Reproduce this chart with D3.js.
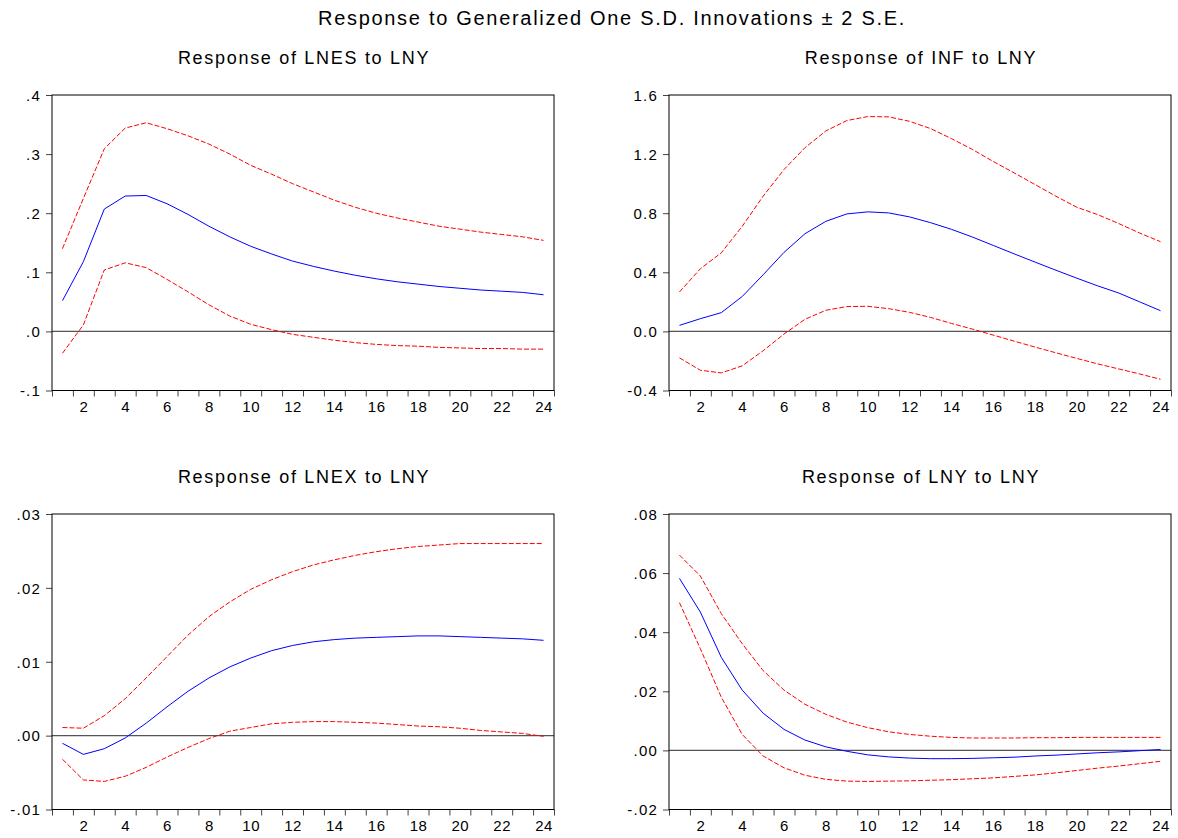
<!DOCTYPE html>
<html>
<head>
<meta charset="utf-8">
<script src="https://cdn.jsdelivr.net/npm/d3@7"></script>
<style>
  body { margin: 0; background: #fff; }
  text { font-family: "Liberation Sans", Arial, sans-serif; fill: #000; }
</style>
</head>
<body>
<svg id="chart" width="1178" height="838"></svg>
<script>
// data
const periods = [1, 2, 3, 4, 5, 6, 7, 8, 9, 10, 11, 12, 13, 14, 15, 16, 17, 18, 19, 20, 21, 22, 23, 24];
const xTickLabels = [2, 4, 6, 8, 10, 12, 14, 16, 18, 20, 22, 24];

const lnesResp = [0.052, 0.118, 0.207, 0.229, 0.230, 0.216, 0.198, 0.178, 0.160, 0.144, 0.131, 0.119,
  0.110, 0.102, 0.095, 0.089, 0.084, 0.080, 0.076, 0.073, 0.070, 0.068, 0.066, 0.062];
const lnesUpper = [0.140, 0.225, 0.309, 0.344, 0.353, 0.343, 0.331, 0.317, 0.300, 0.281, 0.266, 0.250,
  0.236, 0.222, 0.210, 0.200, 0.192, 0.185, 0.178, 0.173, 0.168, 0.164, 0.160, 0.154];
const lnesLower = [-0.037, 0.011, 0.104, 0.116, 0.108, 0.088, 0.067, 0.045, 0.026, 0.012, 0.003, -0.005,
  -0.010, -0.015, -0.019, -0.022, -0.024, -0.025, -0.027, -0.028, -0.029, -0.029, -0.030, -0.030];
const lnesTicks = [-0.1, 0, 0.1, 0.2, 0.3, 0.4];
const lnesTickLabels = ["-.1", ".0", ".1", ".2", ".3", ".4"];

const infResp = [0.041, 0.086, 0.127, 0.236, 0.383, 0.535, 0.661, 0.745, 0.795, 0.809, 0.802, 0.775,
  0.736, 0.691, 0.639, 0.582, 0.525, 0.469, 0.414, 0.360, 0.308, 0.260, 0.200, 0.140];
const infUpper = [0.267, 0.424, 0.532, 0.711, 0.915, 1.096, 1.243, 1.357, 1.427, 1.454, 1.452, 1.422,
  1.373, 1.305, 1.232, 1.150, 1.073, 0.994, 0.915, 0.840, 0.790, 0.730, 0.666, 0.607];
const infLower = [-0.179, -0.263, -0.281, -0.233, -0.131, -0.018, 0.082, 0.143, 0.168, 0.170, 0.154, 0.129,
  0.095, 0.054, 0.016, -0.025, -0.066, -0.106, -0.145, -0.183, -0.220, -0.254, -0.288, -0.324];
const infTicks = [-0.4, 0, 0.4, 0.8, 1.2, 1.6];
const infTickLabels = ["-0.4", "0.0", "0.4", "0.8", "1.2", "1.6"];

const lnexResp = [-0.00104, -0.00254, -0.00177, -0.00032, 0.00168, 0.0039, 0.0060, 0.0078, 0.0093, 0.0105, 0.0115, 0.0122,
  0.0127, 0.0130, 0.0132, 0.0133, 0.0134, 0.0135, 0.0135, 0.0134, 0.0133, 0.0132, 0.0131, 0.0129];
const lnexUpper = [0.0011, 0.0010, 0.0027, 0.0050, 0.0078, 0.0107, 0.0136, 0.0161, 0.0181, 0.0198, 0.0211, 0.0222,
  0.0231, 0.0238, 0.0244, 0.0249, 0.0253, 0.0256, 0.0258, 0.0260, 0.0260, 0.0260, 0.0260, 0.0260];
const lnexLower = [-0.0032, -0.0060, -0.0062, -0.0055, -0.0043, -0.0029, -0.0016, -0.0004, 0.0006, 0.0011, 0.0016, 0.0018,
  0.0019, 0.0019, 0.0018, 0.0017, 0.0015, 0.0013, 0.0012, 0.0010, 0.0007, 0.0005, 0.0003, -0.0001];
const lnexTicks = [-0.01, 0, 0.01, 0.02, 0.03];
const lnexTickLabels = ["-.01", ".00", ".01", ".02", ".03"];

const lnyResp = [0.0582, 0.0468, 0.0315, 0.0204, 0.0126, 0.0071, 0.0035, 0.0012, -0.0003, -0.0015, -0.0022, -0.0026,
  -0.0028, -0.0028, -0.0027, -0.0025, -0.0023, -0.0019, -0.0016, -0.0012, -0.0008, -0.0005, -0.0001, 0.0003];
const lnyUpper = [0.0661, 0.0590, 0.0463, 0.0361, 0.0270, 0.0204, 0.0156, 0.0122, 0.0096, 0.0077, 0.0063, 0.0054,
  0.0048, 0.0044, 0.0042, 0.0042, 0.0042, 0.0043, 0.0043, 0.0044, 0.0044, 0.0044, 0.0044, 0.0044];
const lnyLower = [0.0500, 0.0344, 0.0180, 0.0054, -0.0019, -0.0059, -0.0084, -0.0098, -0.0104, -0.0105, -0.0104, -0.0103,
  -0.0101, -0.0099, -0.0096, -0.0093, -0.0088, -0.0083, -0.0076, -0.0068, -0.0060, -0.0053, -0.0045, -0.0037];
const lnyTicks = [-0.02, 0, 0.02, 0.04, 0.06, 0.08];
const lnyTickLabels = ["-.02", ".00", ".02", ".04", ".06", ".08"];

const mainTitle = "Response to Generalized One S.D. Innovations \u00b1 2 S.E.";

const panels = [
  { title: "Response of LNES to LNY", resp: lnesResp, upper: lnesUpper, lower: lnesLower, ticks: lnesTicks, labels: lnesTickLabels, col: 0, row: 0 },
  { title: "Response of INF to LNY", resp: infResp, upper: infUpper, lower: infLower, ticks: infTicks, labels: infTickLabels, col: 1, row: 0 },
  { title: "Response of LNEX to LNY", resp: lnexResp, upper: lnexUpper, lower: lnexLower, ticks: lnexTicks, labels: lnexTickLabels, col: 0, row: 1 },
  { title: "Response of LNY to LNY", resp: lnyResp, upper: lnyUpper, lower: lnyLower, ticks: lnyTicks, labels: lnyTickLabels, col: 1, row: 1 }
];

// layout
const svg = d3.select("#chart");
const colLeft = [52, 669];
const rowTop = [95, 514];
const plotW = 502;
const plotH = 295.5;
const font = "'Liberation Sans', Arial, sans-serif";

svg.append("text")
  .attr("x", 612)
  .attr("y", 25)
  .attr("text-anchor", "middle")
  .attr("font-size", "20px")
  .attr("letter-spacing", "1.7px")
  .text(mainTitle);

panels.forEach(p => {
  const g = svg.append("g")
    .attr("transform", `translate(${colLeft[p.col]},${rowTop[p.row]})`);

  const x = d3.scaleLinear().domain([0.5, 24.5]).range([0, plotW]);
  const y = d3.scaleLinear()
    .domain([p.ticks[0], p.ticks[p.ticks.length - 1]])
    .range([plotH, 0]);

  g.append("text")
    .attr("x", plotW / 2 + 1)
    .attr("y", -31)
    .attr("text-anchor", "middle")
    .attr("font-size", "18px")
    .attr("letter-spacing", "1.7px")
    .text(p.title);

  // y axis
  const yAxis = g.append("g")
    .call(d3.axisLeft(y)
      .tickValues(p.ticks)
      .tickFormat((d, i) => p.labels[i])
      .tickSize(6)
      .tickPadding(5));
  yAxis.select(".domain").remove();
  yAxis.selectAll("line").attr("stroke", "#444");
  yAxis.selectAll("text").attr("font-size", "15px").attr("dy", "0.35em")
    .attr("letter-spacing", "1.2px")
    .attr("font-family", font).attr("fill", "#000");

  // x axis: marks between periods, labels on even periods
  const boundaries = periods.map(d => d - 0.5).concat([24.5]);
  const xMarks = g.append("g")
    .attr("transform", `translate(0,${plotH})`)
    .call(d3.axisBottom(x).tickValues(boundaries).tickFormat("").tickSize(6));
  xMarks.select(".domain").remove();
  xMarks.selectAll("line").attr("stroke", "#444");

  const xLabels = g.append("g")
    .attr("transform", `translate(0,${plotH})`)
    .call(d3.axisBottom(x).tickValues(xTickLabels).tickSize(0).tickPadding(11));
  xLabels.select(".domain").remove();
  xLabels.selectAll("text").attr("font-size", "15px")
    .attr("letter-spacing", "0.5px")
    .attr("font-family", font).attr("fill", "#000");

  // zero line
  g.append("line")
    .attr("x1", 0).attr("x2", plotW)
    .attr("y1", y(0)).attr("y2", y(0))
    .attr("stroke", "#555")
    .attr("stroke-width", 1.2);

  const line = d3.line()
    .x((d, i) => x(periods[i]))
    .y(d => y(d));

  g.append("path").datum(p.upper)
    .attr("d", line).attr("fill", "none")
    .attr("stroke", "#ff0000").attr("stroke-width", 1)
    .attr("stroke-dasharray", "5,2");
  g.append("path").datum(p.lower)
    .attr("d", line).attr("fill", "none")
    .attr("stroke", "#ff0000").attr("stroke-width", 1)
    .attr("stroke-dasharray", "5,2");
  g.append("path").datum(p.resp)
    .attr("d", line).attr("fill", "none")
    .attr("stroke", "#0000ff").attr("stroke-width", 1);

  // frame
  g.append("rect")
    .attr("x", 0).attr("y", 0)
    .attr("width", plotW).attr("height", plotH)
    .attr("fill", "none")
    .attr("stroke", "#000")
    .attr("stroke-width", 1);
});
</script>
</body>
</html>
